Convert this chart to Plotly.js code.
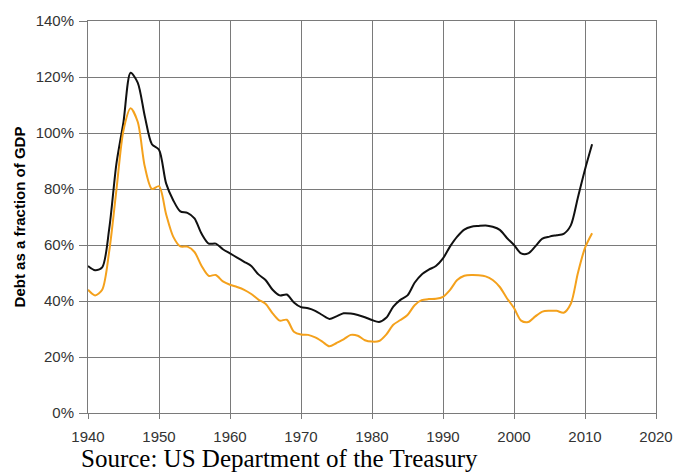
<!DOCTYPE html>
<html>
<head>
<meta charset="utf-8">
<script src="https://cdn.plot.ly/plotly-3.0.1.min.js"></script>
<style>html,body{margin:0;padding:0;background:#fff;}#chart{width:673px;height:472px;}</style>
</head>
<body>
<div id="chart"></div>
<script>
var years = [];
for (var y = 1940; y <= 2011; y++) years.push(y);

var grossDebt = [52.5,51,52,66,89,104,121.5,118,106,96,
  94,82,76,72,71.5,69.5,64,60.5,60.5,58.5,
  57,55.5,54,52.5,49.5,47.5,44,42,42.3,39.5,
  37.8,37.4,36.5,35,33.6,34.5,35.6,35.5,35,34.2,
  33.2,32.5,34,38,40.4,42,46.5,49.5,51.2,52.5,
  55.2,59.5,63,65.5,66.5,66.8,67,66.5,65.4,62.5,
  60,57,57,59.5,62.3,63,63.5,64,67,77,
  87,96];

var publicDebt = [44,42,44,58,79.6,101,108.8,104,88,80,
  81,71,63,59.5,59.4,57.5,52.5,49,49.3,47,
  45.8,45,44,42.5,40.5,39,35.6,33,33.3,29,
  28,27.9,27,25.5,23.8,25,26.3,27.9,27.6,26,
  25.5,25.7,28,31.5,33.2,35,38.5,40.3,40.7,40.8,
  41.5,44,47.5,49,49.3,49.2,48.8,47.5,45,41,
  37.5,33,32.5,34.5,36.2,36.5,36.5,35.8,39,50,
  59,64.2];

var yTickVals = [0,20,40,60,80,100,120,140];
var yTickText = ['0%','20%','40%','60%','80%','100%','120%','140%'];
var xTickVals = [1940,1950,1960,1970,1980,1990,2000,2010,2020];

var traces = [
  {x: years, y: grossDebt, type: 'scatter', mode: 'lines',
   line: {color: '#111111', width: 2, shape: 'spline', smoothing: 0.8}, hoverinfo: 'skip'},
  {x: years, y: publicDebt, type: 'scatter', mode: 'lines',
   line: {color: '#F4A11C', width: 2, shape: 'spline', smoothing: 0.8}, hoverinfo: 'skip'}
];

var layout = {
  width: 673, height: 472,
  margin: {l: 88, r: 17, t: 21, b: 59},
  paper_bgcolor: '#ffffff', plot_bgcolor: '#ffffff',
  showlegend: false,
  font: {family: 'Liberation Sans, Arial, sans-serif', size: 15, color: '#333333'},
  xaxis: {
    range: [1940, 2020], tickvals: xTickVals, ticktext: xTickVals.map(String),
    showgrid: true, gridcolor: '#7a7a7a', gridwidth: 1,
    showline: true, linecolor: '#7a7a7a', linewidth: 1, mirror: true,
    ticks: 'outside', ticklen: 5, tickcolor: '#7a7a7a', ticklabelstandoff: 5,
    zeroline: false, fixedrange: true
  },
  yaxis: {
    range: [0, 140], tickvals: yTickVals, ticktext: yTickText,
    showgrid: true, gridcolor: '#7a7a7a', gridwidth: 1,
    showline: true, linecolor: '#7a7a7a', linewidth: 1, mirror: true,
    ticks: 'outside', ticklen: 8, tickcolor: '#7a7a7a', ticklabelstandoff: 2,
    zeroline: false, fixedrange: true,
    title: {text: '<b>Debt as a fraction of GDP</b>', font: {size: 15, color: '#000000'}, standoff: 6}
  },
  annotations: [{
    text: 'Source: US Department of the Treasury',
    xref: 'paper', yref: 'paper', x: -0.0145, y: -0.08, xanchor: 'left', yanchor: 'top',
    showarrow: false, borderpad: 0,
    font: {family: 'Liberation Serif, Times New Roman, serif', size: 25, color: '#000000'}
  }]
};

Plotly.newPlot('chart', traces, layout, {displayModeBar: false, staticPlot: true});
</script>
</body>
</html>
